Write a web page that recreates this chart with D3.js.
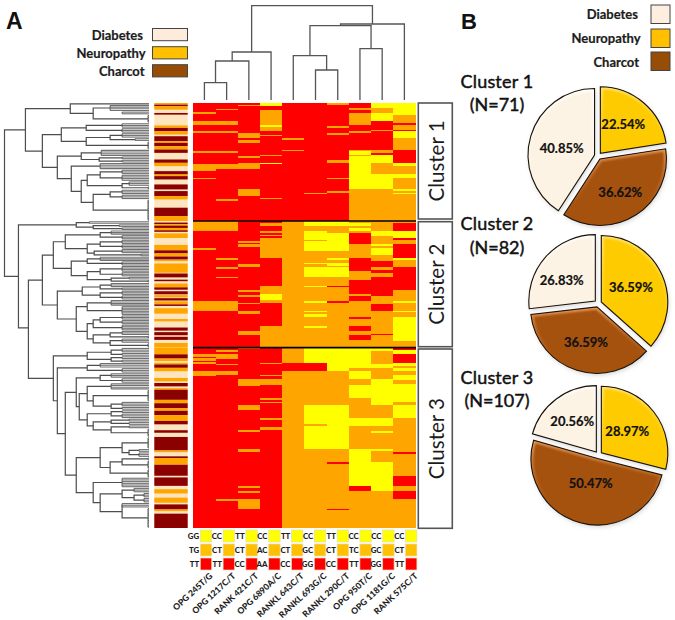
<!DOCTYPE html>
<html><head><meta charset="utf-8">
<script src="https://cdn.jsdelivr.net/npm/d3@7/dist/d3.min.js"></script>
<style>html,body{margin:0;padding:0;background:#fff}svg{display:block}text{font-family:Lato,"Open Sans",sans-serif}</style>
</head><body><svg id="c" width="675" height="620"></svg>
<script>
// ---------- DATA ----------
const R=0,O=1,Y=2; // genotype levels
const snps=["OPG 245T/G","OPG 1217C/T","RANK 421C/T","OPG 6890A/C","RANKL 643C/T","RANKL 693G/C","RANKL 290C/T","OPG 950T/C","OPG 1181G/C","RANK 575C/T"];
const genoTop=["GG","CC","TT","CC","TT","CC","TT","CC","CC","CC"];
const genoMid=["TG","CT","CT","AC","CT","GC","CT","TC","GC","CT"];
const genoBot=["TT","TT","CC","AA","CC","GG","CC","TT","GG","TT"];
const clusterNames=["Cluster 1","Cluster 2","Cluster 3"];
const clusterN=[71,82,107];
const groups=["Diabetes","Neuropathy","Charcot"];
const pieValues=[[22.54,36.62,40.85],[36.59,36.59,26.83],[28.97,50.47,20.56]]; // Neuropathy, Charcot, Diabetes
// heat map: per column [base level, [[level,fromRow,toRow],...]] rows relative to the cluster
const heat1=[
[R,[[O,5.5,6.5],[O,11,13],[O,17,18],[O,29,30],[O,37,41],[O,45,46]]],
[R,[[O,3.5,4.5],[O,11,13],[O,17,18],[O,29,30],[O,37,40],[O,58,59]]],
[R,[[O,1,2],[O,18,21],[O,22,24],[O,32,33],[O,36,37],[O,37,40],[O,52,56]]],
[R,[[Y,0,2],[O,4,13],[Y,13,14.5],[O,14.5,17],[O,19,20],[O,31,32],[Y,36,37],[O,57,58]]],
[R,[[O,21,22],[O,28,29]]],
[R,[[O,54,55]]],
[R,[[O,0,1],[O,14,15],[O,18,19],[O,34,36],[O,45,46],[O,53,54]]],
[R,[[O,3,4],[O,6,13],[O,17,18],[O,28,29],[Y,29,31],[O,31,32],[Y,32,52],[O,52,71]]],
[R,[[Y,0,3],[O,3,6],[Y,6,11],[O,16,17],[O,28,30],[Y,31,36],[O,36,43],[Y,43,52],[O,52,71]]],
[R,[[Y,0,7.5],[O,7.5,12],[O,13,16],[Y,17,21],[O,21,28],[Y,36,38],[O,38,43],[Y,43,45],[O,45,52],[Y,52,53],[O,53,54],[Y,54,55],[O,55,71]]]
];
const heat2=[
[R,[[O,0,6.5],[O,17.4,18.5],[O,52,58]]],
[R,[[O,0,6.5],[O,24,25],[O,30,31],[O,36,37],[O,52,58]]],
[R,[[O,13,14],[O,15,17],[O,28,30],[O,45,46],[O,48,49],[O,53,54],[O,58,60],[O,71,74]]],
[R,[[O,1,3],[O,6.5,7.5],[O,9,10],[O,11,24],[O,42,47],[Y,47,51],[O,51,53],[O,68,82]]],
[O,[]],
[O,[[Y,0,3.5],[Y,6.5,12],[Y,13,19.5],[Y,27,28],[Y,30,36],[Y,42,43],[Y,52,53],[Y,58,59],[Y,60,62],[Y,68,69]]],
[O,[[Y,0,3.5],[Y,8,9],[Y,9,19.5],[Y,24,25],[Y,27,29],[Y,30,36],[R,42,43],[R,52,53]]],
[O,[[Y,1,3.5],[Y,4.5,6.5],[R,7.5,15],[R,24,32.5],[R,38.5,47],[R,48.5,52],[R,62,63.5],[R,68,71],[R,74,77]]],
[O,[[Y,6.5,10],[Y,15,16],[Y,17.5,22],[R,26,30],[R,32,34],[R,36,44.5],[R,45,48.5],[R,53.5,58],[R,73,74]]],
[R,[[O,0,1],[Y,6.5,11],[O,12,15],[Y,24,25],[O,25,30],[O,45,52],[Y,52,53],[O,53,58],[Y,58,59],[O,59,62],[Y,62,78],[O,78,82]]]
];
const heat3=[
[R,[[O,4,5.5],[O,6,8],[O,8.5,9.5],[O,14,17]]],
[R,[[O,1.5,2.5],[O,4,7],[O,9.5,10.5],[O,14,16],[O,90,91]]],
[R,[[O,0.5,1],[O,18.5,22.5],[O,34,37],[O,49,50],[O,60,62],[O,82,83],[O,85,86],[O,90,96]]],
[R,[[O,9,10],[O,16,17],[O,18.5,22],[O,30,31],[O,32,33],[O,42,43],[O,47,49]]],
[O,[[R,9,14]]],
[O,[[Y,0,9],[R,9,14],[Y,34,45.5],[Y,46.5,60]]],
[O,[[Y,0,14],[Y,34,60],[R,68,69],[R,95.5,96.5]]],
[O,[[Y,0,12],[Y,14,18.5],[Y,22,30],[Y,42,46.5],[Y,60,82],[R,82,85]]],
[O,[[Y,0,2],[Y,10,12],[Y,18.5,34],[Y,42,46.5],[Y,49.5,50.5],[Y,60,61.5],[Y,68,85]]],
[O,[[R,0,1.5],[Y,1.5,3.5],[R,3.5,9],[Y,9,11],[Y,12,14],[Y,16,19.5],[Y,21.5,32],[Y,34,42],[R,62,63],[R,76,82],[R,85,90]]]
];
const D=0,N=1,C=2; // diagnosis
const side1=[[N,0,1],[C,1,2],[N,2,4],[C,6,7],[N,13.5,15],[C,15,17],[N,17,19],[C,20,23],[N,23,24],[C,24,26],[N,26,28],[C,28,30],[C,34,36],[N,36,38],[C,41,43],[N,43,44],[C,44,46],[C,49,52],[C,53,56],[N,56,58],[C,63,68],[N,68,71]];
const side2=[[C,1,2],[N,2,3],[C,3,4.5],[N,4.5,6],[C,6,7],[N,8,11],[N,15.5,19],[C,19,21],[N,21,23],[C,23,25],[N,25,26],[N,27.5,33.5],[C,34,36.5],[C,38,39],[N,40.5,43],[C,43,44.5],[C,45.5,47.5],[N,48,49.5],[C,50,51.5],[N,52,54],[C,54,55],[N,56.5,60],[N,63.5,65],[C,69,71],[C,72,74],[C,75,77],[N,79,82]];
const side3=[[N,0,4],[C,4,6.5],[N,6.5,8],[N,9,10],[C,10,12],[N,12,14],[N,18,20],[C,21,23],[N,24,25],[C,25,31],[N,31,33],[C,33,36],[N,36,37.5],[C,37.5,40],[N,40,43.5],[C,43.5,45.5],[C,49,50.5],[C,53,61],[N,61,62],[C,64.5,65.5],[N,65.5,69.5],[C,69.5,76],[C,77,82],[N,84,86.5],[N,89,92],[C,93,96],[N,96,97],[C,98.5,107]];
// row dendrogram: node(height, children...) and fan(leaf count, height)
const nd=(h,...c)=>({h,c}), fan=(n,h)=>({h,n});
const rowTree=nd(145,
 nd(124,
  nd(79,fan(1,0),nd(56,fan(4,39),fan(2,27),fan(5,1))),
  nd(107,
   nd(88,nd(63,fan(3,27),fan(3,27)),nd(63,nd(39,fan(3,27),fan(2,14)),fan(5,1))),
   nd(92,
    nd(68,fan(4,48),nd(50,fan(2,27),fan(2,27))),
    nd(78,fan(4,49),nd(68,
      nd(62,nd(49,fan(3,27),fan(4,27)),nd(27,fan(3,20),fan(2,1))),
      nd(56,nd(39,fan(3,27),fan(3,27)),fan(13,1))))))),
 nd(131,
  nd(73,fan(2,60),nd(56,fan(2,30),fan(2,27))),
  nd(121,
   nd(107,
    nd(96,
     nd(84,nd(49,fan(3,38),fan(3,27)),nd(62,nd(49,fan(3,27),fan(3,27)),nd(55,fan(3,27),fan(2,8)))),
     nd(78,nd(62,fan(3,49),fan(3,27)),nd(62,nd(49,fan(4,27),fan(3,27)),nd(38,fan(2,20),fan(2,1))))),
    nd(92,
     nd(67,nd(49,fan(3,38),fan(2,27)),nd(49,fan(3,27),fan(3,27))),
     nd(73,nd(62,fan(4,38),fan(6,27)),
      nd(62,nd(56,nd(49,fan(3,27),fan(3,27)),fan(4,27)),nd(56,nd(39,fan(3,27),fan(2,1)),nd(39,fan(3,27),fan(3,1))))))),
   nd(96,
    nd(62,nd(38,fan(3,27),fan(2,27)),nd(38,fan(2,27),fan(2,27))),
    nd(92,
     nd(62,fan(3,49),fan(3,27)),
     nd(84,
      nd(73,nd(49,fan(3,38),fan(3,27)),nd(70,
        nd(62,fan(4,38),nd(56,fan(7,1),nd(38,fan(3,27),fan(2,27)))),
        nd(62,nd(38,fan(2,27),fan(3,27)),nd(56,nd(38,fan(2,20),fan(2,20)),nd(38,fan(2,20),fan(5,1)))))),
      nd(73,
       nd(49,nd(27,fan(7,1),nd(20,fan(2,10),fan(3,10))),nd(39,nd(27,fan(2,1),fan(5,1)),fan(5,1))),
       nd(56,fan(6,27),nd(49,nd(27,fan(3,15),nd(15,fan(3,5),fan(3,5))),nd(27,fan(3,27),fan(12,1)))))))))));
// column dendrogram: leaves are column indexes
const colTree=nd(94.3,
 nd(48,nd(39,nd(17.3,{i:0},{i:1}),{i:2}),{i:3}),
 nd(76,nd(74.3,nd(44.3,{i:4},nd(30,{i:5},{i:6})),nd(51.3,{i:7},{i:8})),{i:9}));

// ---------- LAYOUT ----------
const svg=d3.select("#c");
const defs=svg.append("defs");
const heatColor=d3.scaleOrdinal([R,O,Y],["#ff0000","#ffa500","#ffff00"]);
const sideColor=d3.scaleOrdinal([D,N,C],["#fee5bf","#ffa500","#8b0000"]);
const x=d3.scaleBand().domain(d3.range(10)).range([193.3,415.5]);
const cum=[0,71,153,260];
const y=d3.scaleLinear().domain(cum).range([103,221,347.6,528]);
const keyX=d3.scaleBand().domain(d3.range(10)).range([200.3,428.3]);
const textDark="#1c1c1c";

// heat map
const heatG=svg.append("g").attr("shape-rendering","crispEdges");
[heat1,heat2,heat3].forEach((cols,ci)=>{
 cols.forEach((col,j)=>{
  const cells=[[col[0],0,clusterN[ci]],...col[1]];
  heatG.append("g").selectAll("rect").data(cells).join("rect")
   .attr("x",x(j)).attr("width",x.bandwidth()+.4)
   .attr("y",d=>y(d[1]+cum[ci])).attr("height",d=>Math.max(1,y(d[2]+cum[ci])-y(d[1]+cum[ci])))
   .attr("fill",d=>heatColor(d[0]));
 });
});
// cluster separators
svg.selectAll("line.sep").data([cum[1],cum[2]]).join("line").attr("class","sep")
 .attr("x1",193).attr("x2",416).attr("y1",d=>y(d)).attr("y2",d=>y(d)).attr("stroke","#000").attr("stroke-width",1.6);

// side bar
const sideG=svg.append("g");
[side1,side2,side3].forEach((bands,ci)=>{
 sideG.append("rect").attr("x",154.3).attr("width",33.4).attr("y",y(cum[ci])).attr("height",y(cum[ci+1])-y(cum[ci])).attr("fill",sideColor(D));
 sideG.append("g").selectAll("rect").data(bands).join("rect")
  .attr("x",154.3).attr("width",33.4).attr("y",d=>y(d[1]+cum[ci])).attr("height",d=>y(d[2]+cum[ci])-y(d[1]+cum[ci]))
  .attr("fill",d=>sideColor(d[0]));
});

// row dendrogram
const rx=d3.scaleLinear().domain([0,145]).range([149,4.5]);
const rowRoot=d3.hierarchy(rowTree,d=>d.c);
let rowCount=0;
rowRoot.eachAfter(n=>{
 if(n.data.n){n.top=rowCount;rowCount+=n.data.n;n.row=(n.top+rowCount-1)/2;}
 else n.row=(n.children[0].row+n.children[n.children.length-1].row)/2;
});
const ry=r=>y(r+.5);
const dG=svg.append("g").attr("fill","none");
rowRoot.descendants().forEach(n=>{
 if(n.children){
  dG.append("path").attr("stroke","#4d4d4d").attr("stroke-width",1.2)
   .attr("d",`M${rx(n.children[0].data.h)},${ry(n.children[0].row)}H${rx(n.data.h)}V${ry(n.children[n.children.length-1].row)}H${rx(n.children[n.children.length-1].data.h)}`);
 } else {
  d3.range(n.data.n).forEach(k=>{
   dG.append("line").attr("stroke","#707070").attr("stroke-width",1.1)
    .attr("x1",rx(n.data.h)).attr("x2",rx(0)).attr("y1",ry(n.top+k)).attr("y2",ry(n.top+k));
  });
  if(n.data.n>1) dG.append("line").attr("stroke","#555").attr("stroke-width",1)
    .attr("x1",rx(n.data.h)).attr("x2",rx(n.data.h)).attr("y1",ry(n.top)).attr("y2",ry(n.top+n.data.n-1));
 }
});

// column dendrogram
const cy=d3.scaleLinear().domain([0,94.3]).range([100,5.7]);
const colRoot=d3.hierarchy(colTree,d=>d.c);
colRoot.eachAfter(n=>{
 if(n.data.i!==undefined){n.px=x(n.data.i)+x.bandwidth()/2;n.ht=0;}
 else {n.px=(n.children[0].px+n.children[1].px)/2;n.ht=n.data.h;}
});
const cG=svg.append("g").attr("fill","none").attr("stroke","#555").attr("stroke-width",1.3);
colRoot.descendants().filter(n=>n.children).forEach(n=>{
 const [a,b]=n.children;
 cG.append("path").attr("d",`M${a.px},${cy(a.ht)}V${cy(n.ht)}H${b.px}V${cy(b.ht)}`);
});

// cluster boxes
const boxY=[[103,219],[221.7,346.7],[349,528.3]];
const boxG=svg.append("g");
clusterNames.forEach((t,i)=>{
 boxG.append("rect").attr("x",418.3).attr("width",34).attr("y",boxY[i][0]).attr("height",boxY[i][1]-boxY[i][0])
  .attr("fill","#fff").attr("stroke","#555").attr("stroke-width",1.6);
 boxG.append("text").attr("transform",`translate(435.5,${(boxY[i][0]+boxY[i][1])/2}) rotate(-90)`)
  .attr("text-anchor","middle").attr("dominant-baseline","central").attr("font-size",20.5).attr("fill",textDark).text(t);
});

// genotype key
const keyRows=[{labels:genoTop,fill:"#ffff00",y:530},{labels:genoMid,fill:"#ffc000",y:544},{labels:genoBot,fill:"#ff0000",y:558}];
const keyG=svg.append("g");
keyRows.forEach(r=>{
 keyG.append("g").selectAll("rect").data(r.labels).join("rect")
  .attr("x",(d,i)=>keyX(i)).attr("y",r.y).attr("width",11.4).attr("height",12)
  .attr("fill",r.fill).attr("stroke","#e8d9b0").attr("stroke-width",.7);
 keyG.append("g").selectAll("text").data(r.labels).join("text")
  .attr("x",(d,i)=>keyX(i)-1.2).attr("y",r.y+6).attr("text-anchor","end").attr("dominant-baseline","central")
  .attr("font-size",7.8).attr("font-weight",900).attr("fill",textDark).text(d=>d);
});
keyG.append("g").selectAll("text").data(snps).join("text")
 .attr("transform",(d,i)=>`translate(${keyX(i)+8.5},572) rotate(-43)`)
 .attr("text-anchor","end").attr("dominant-baseline","hanging").attr("font-size",8.6).attr("font-weight",900).attr("fill",textDark).text(d=>d);

// panel letters
svg.append("text").attr("x",6).attr("y",29).attr("font-size",23).attr("font-weight",700).attr("fill","#111").style("font-family","Liberation Sans").text("A");
svg.append("text").attr("x",461).attr("y",29).attr("font-size",22).attr("font-weight",700).attr("fill","#111").style("font-family","Liberation Sans").text("B");

// legends
function legend(items,xRight,bx,bw,ys,bh,colors,labelY){
 items.forEach((t,i)=>{
  svg.append("text").attr("x",xRight[i]).attr("y",labelY[i]).attr("text-anchor","end").attr("dominant-baseline","central")
   .attr("font-size",13).attr("font-weight",700).attr("fill",textDark).attr("stroke",textDark).attr("stroke-width",.2).text(t);
  svg.append("rect").attr("x",bx).attr("y",ys[i]).attr("width",bw).attr("height",bh).attr("fill",colors[i]).attr("stroke","#444").attr("stroke-width",1);
 });
}
const pieCol={Neuropathy:"#fecb00",Charcot:"#a5520f",Diabetes:"#fdf3e4"};
legend(groups,[143,145.5,144.5],152.5,35,[28.5,46.7,64.7],12.2,["#fdebdc","#ffc000","#974d06"],[35,53,71]);
legend(groups,[638,640.5,639],651,19,[5,29,52],18.5,["#fdeee0","#ffc000","#974d06"],[14,38,62]);

// pies
const pieOrder=["Neuropathy","Charcot","Diabetes"];
const pieCenters=[[598,156],[598,303.5],[598.5,455]];
const pieR=66.5, explode=3.6;
const titleY=[[81,104],[223,247],[377,400]];
const labelOff=[[[25.3,-31.7],[22.3,35.7],[-36.3,-7.7]],[[33,-16.2],[-12,38.2],[-36.3,-23.5]],[[28.8,-24],[-7.8,28.3],[-26.2,-34]]];
const arc=d3.arc().innerRadius(0).outerRadius(pieR);
const pie=d3.pie().sort(null);
const rim={Neuropathy:"#ffe680",Charcot:"#ee9d5c",Diabetes:"#ffffff"};
Object.keys(rim).forEach(k=>{
 const lg=defs.append("linearGradient").attr("id","rim"+k).attr("x1",0).attr("y1",0).attr("x2",0).attr("y2",1);
 lg.append("stop").attr("offset",0).attr("stop-color",rim[k]).attr("stop-opacity",.95);
 lg.append("stop").attr("offset",.3).attr("stop-color",rim[k]).attr("stop-opacity",.45);
 lg.append("stop").attr("offset",.75).attr("stop-color",rim[k]).attr("stop-opacity",0);
});
const blur=defs.append("filter").attr("id","soft").attr("x","-20%").attr("y","-20%").attr("width","140%").attr("height","140%");
blur.append("feGaussianBlur").attr("stdDeviation",.9);
const sh=defs.append("filter").attr("id","shadow").attr("x","-20%").attr("y","-20%").attr("width","140%").attr("height","140%");
sh.append("feGaussianBlur").attr("stdDeviation",2);
pieValues.forEach((vals,pi)=>{
 const [cx,cyy]=pieCenters[pi];
 const g=svg.append("g").attr("transform",`translate(${cx},${cyy})`);
 pie(vals).forEach((s,i)=>{
  const name=pieOrder[i];
  const mid=(s.startAngle+s.endAngle)/2;
  const dx=Math.sin(mid)*explode, dy=-Math.cos(mid)*explode;
  const id=`cl${pi}${i}`;
  defs.append("clipPath").attr("id",id).append("path").attr("d",arc(s));
  const sg=g.append("g").attr("transform",`translate(${dx},${dy})`);
  sg.append("path").attr("d",arc(s)).attr("transform","translate(1,2)").attr("fill","#999").attr("opacity",.4).attr("filter","url(#shadow)");
  sg.append("path").attr("d",arc(s)).attr("fill",pieCol[name]);
  sg.append("g").attr("clip-path",`url(#${id})`).append("path").attr("d",arc(s))
    .attr("fill","none").attr("stroke",`url(#rim${name})`).attr("stroke-width",5).attr("filter","url(#soft)");
  sg.append("path").attr("d",arc(s)).attr("fill","none").attr("stroke","#1a1208").attr("stroke-width",1.1);
  g.append("text").attr("x",labelOff[pi][i][0]).attr("y",labelOff[pi][i][1]).attr("text-anchor","middle").attr("dominant-baseline","central")
   .attr("font-size",13).attr("font-weight",700).attr("fill","#111").attr("stroke","#111").attr("stroke-width",.2).text(s.data.toFixed(2)+"%");
 });
 svg.append("text").attr("x",497).attr("y",titleY[pi][0]).attr("text-anchor","middle").attr("dominant-baseline","central")
  .attr("font-size",18).attr("font-weight",400).attr("fill","#111").attr("stroke","#111").attr("stroke-width",.45).attr("letter-spacing",.2).text(clusterNames[pi]);
 svg.append("text").attr("x",497).attr("y",titleY[pi][1]).attr("text-anchor","middle").attr("dominant-baseline","central")
  .attr("font-size",18).attr("font-weight",400).attr("fill","#111").attr("stroke","#111").attr("stroke-width",.45).text(`(N=${clusterN[pi]})`);
});
</script></body></html>
